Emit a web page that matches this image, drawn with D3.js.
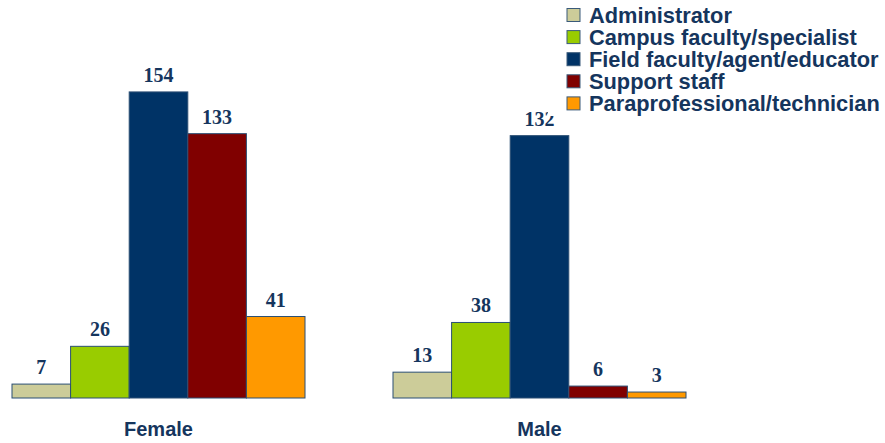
<!DOCTYPE html>
<html>
<head>
<meta charset="utf-8">
<script src="https://cdn.jsdelivr.net/npm/d3@7"></script>
<style>
  html, body { margin: 0; padding: 0; background: #ffffff; }
  svg { display: block; }
</style>
</head>
<body>
<svg id="chart" width="885" height="443"></svg>
<script>
// Staff counts by gender and position type
const groups = ["Female", "Male"];
const series = [
  "Administrator",
  "Campus faculty/specialist",
  "Field faculty/agent/educator",
  "Support staff",
  "Paraprofessional/technician"
];
const femaleValues = [7, 26, 154, 133, 41];
const maleValues = [13, 38, 132, 6, 3];
const seriesColors = ["#cccc99", "#99cc00", "#003366", "#800000", "#ff9900"];

const rows = [
  { group: "Female", values: femaleValues },
  { group: "Male", values: maleValues }
];

const textColor = "#15355d";
const svg = d3.select("#chart");

const x0 = d3.scaleBand()
  .domain(groups)
  .range([12, 686])
  .paddingInner(88 / 381)
  .paddingOuter(0);

const x1 = d3.scaleBand()
  .domain(series)
  .range([0, x0.bandwidth()])
  .padding(0);

const y = d3.scaleLinear()
  .domain([0, 160])
  .range([398, 80]);

const color = d3.scaleOrdinal().domain(series).range(seriesColors);

const plot = svg.append("g");

const groupG = plot.selectAll("g.group")
  .data(rows)
  .join("g")
  .attr("class", "group")
  .attr("transform", d => `translate(${x0(d.group)},0)`);

groupG.selectAll("rect")
  .data(d => d.values.map((v, i) => ({ key: series[i], value: v })))
  .join("rect")
  .attr("x", d => x1(d.key))
  .attr("y", d => y(d.value))
  .attr("width", x1.bandwidth())
  .attr("height", d => y(0) - y(d.value))
  .attr("fill", d => color(d.key))
  .attr("stroke", "#2b4f74")
  .attr("stroke-width", 1);

groupG.selectAll("text.value")
  .data(d => d.values.map((v, i) => ({ key: series[i], value: v })))
  .join("text")
  .attr("class", "value")
  .attr("x", d => x1(d.key) + x1.bandwidth() / 2)
  .attr("y", d => y(d.value) - 10)
  .attr("text-anchor", "middle")
  .attr("font-family", "'Liberation Serif', 'Times New Roman', serif")
  .attr("font-weight", "bold")
  .attr("font-size", 20)
  .attr("fill", textColor)
  .text(d => d.value);

// Category labels under each cluster
const xAxis = d3.axisBottom(x0).tickSize(0).tickPadding(0);
const axisG = svg.append("g")
  .attr("transform", "translate(0,420)")
  .call(xAxis);
axisG.select(".domain").remove();
axisG.selectAll("text")
  .attr("dy", "16px")
  .attr("font-family", "'Liberation Sans', Arial, sans-serif")
  .attr("font-weight", "bold")
  .attr("font-size", 20)
  .attr("fill", textColor);

// Legend, on a white panel drawn over the plot area
const legend = svg.append("g");
legend.append("rect")
  .attr("x", 548)
  .attr("y", 0)
  .attr("width", 337)
  .attr("height", 116)
  .attr("fill", "#ffffff");

const item = legend.selectAll("g.item")
  .data(series)
  .join("g")
  .attr("class", "item")
  .attr("transform", (d, i) => `translate(567,${15 + i * 22.1})`);

item.append("rect")
  .attr("x", 0)
  .attr("y", -6.5)
  .attr("width", 13)
  .attr("height", 13)
  .attr("fill", d => color(d))
  .attr("stroke", "#3a5a7a")
  .attr("stroke-width", 1);

item.append("text")
  .attr("x", 22)
  .attr("y", 7.8)
  .attr("font-family", "'Liberation Sans', Arial, sans-serif")
  .attr("font-weight", "bold")
  .attr("font-size", 21.8)
  .attr("fill", textColor)
  .text(d => d);
</script>
</body>
</html>
